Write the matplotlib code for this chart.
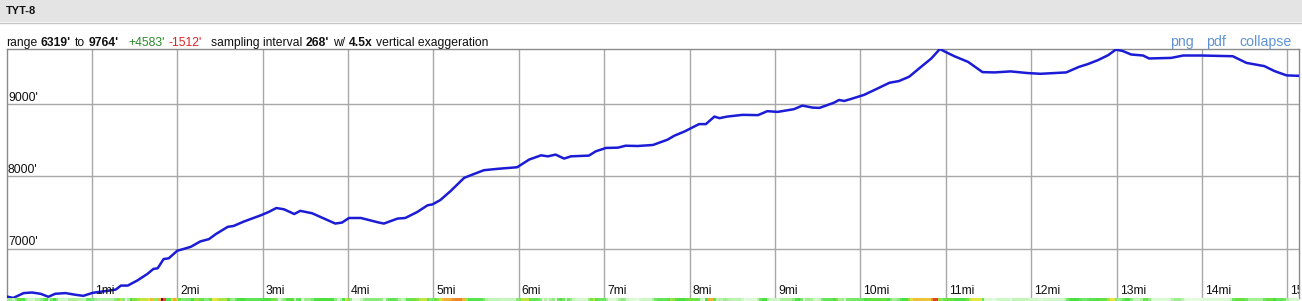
import numpy as np
import matplotlib.pyplot as plt
from matplotlib.colors import LinearSegmentedColormap
from matplotlib.patches import Rectangle
from matplotlib.lines import Line2D

plt.rcParams['font.family'] = ['Liberation Sans', 'DejaVu Sans']

W, H = 1302, 301

# elevation profile: distance (mi) / elevation (ft)
miles = [0.00, 0.08, 0.20, 0.30, 0.40, 0.49, 0.57, 0.69, 0.81, 0.90,
         1.01, 1.18, 1.28, 1.34, 1.42, 1.53, 1.65, 1.72, 1.77, 1.84,
         1.90, 2.00, 2.07, 2.16, 2.27, 2.37, 2.45, 2.59, 2.66, 2.78,
         2.98, 3.07, 3.16, 3.25, 3.37, 3.44, 3.58, 3.85, 3.93, 4.01,
         4.15, 4.36, 4.42, 4.58, 4.67, 4.81, 4.93, 4.99, 5.08, 5.20,
         5.36, 5.46, 5.59, 5.75, 5.98, 6.12, 6.26, 6.34, 6.43, 6.53,
         6.61, 6.82, 6.90, 7.02, 7.16, 7.25, 7.39, 7.57, 7.74, 7.82,
         7.94, 8.11, 8.19, 8.29, 8.35, 8.44, 8.62, 8.80, 8.91, 9.03,
         9.22, 9.32, 9.44, 9.52, 9.69, 9.75, 9.81, 9.89, 10.04, 10.18,
         10.34, 10.45, 10.57, 10.71, 10.83, 10.93, 10.98, 11.10, 11.26, 11.43,
         11.57, 11.76, 11.96, 12.11, 12.41, 12.56, 12.66, 12.78, 12.90, 12.99,
         13.07, 13.17, 13.31, 13.38, 13.64, 13.78, 13.99, 14.36, 14.52, 14.73,
         14.85, 14.99, 15.13]
elev = [6340, 6320, 6387, 6395, 6377, 6336, 6377, 6387, 6363, 6349,
        6391, 6418, 6436, 6491, 6491, 6560, 6652, 6721, 6730, 6858,
        6868, 6973, 6996, 7028, 7102, 7133, 7202, 7303, 7316, 7377,
        7464, 7509, 7564, 7546, 7481, 7525, 7491, 7349, 7363, 7426,
        7426, 7363, 7349, 7418, 7426, 7509, 7601, 7615, 7674, 7798,
        7982, 8028, 8087, 8106, 8128, 8234, 8293, 8279, 8303, 8248,
        8279, 8289, 8348, 8395, 8399, 8426, 8422, 8436, 8509, 8564,
        8623, 8725, 8725, 8829, 8807, 8829, 8853, 8849, 8904, 8894,
        8931, 8981, 8953, 8949, 9021, 9059, 9045, 9073, 9128, 9206,
        9297, 9320, 9380, 9517, 9633, 9764, 9733, 9664, 9586, 9444,
        9440, 9454, 9431, 9421, 9440, 9517, 9554, 9609, 9678, 9755,
        9737, 9688, 9674, 9633, 9641, 9674, 9674, 9664, 9572, 9527,
        9458, 9399, 9393]

y_ticks = [7000, 8000, 9000]
mile_ticks = list(range(1, 16))
y_min, y_max = 6319, 9764
x_max = 15.13

title = "TYT-8"
# info line, in groups that start at a fixed pixel: (text, weight, colour)
info_groups = [
    (6, [("range", 'normal', '#111111'), ("6319'", 'bold', '#111111'),
         ("to", 'normal', '#111111'), ("9764'", 'bold', '#111111')]),
    (128.5, [("+4583'", 'normal', '#2a8a2a'), ("-1512'", 'normal', '#e02424')]),
    (211, [("sampling interval", 'normal', '#111111'), ("268'", 'bold', '#111111'),
           ("w/", 'normal', '#111111'), ("4.5x", 'bold', '#111111'),
           ("vertical exaggeration", 'normal', '#111111')]),
]
links = [("png", 1170), ("pdf", 1206), ("collapse", 1239)]


def fx(px):
    return px / W


def fy(py):
    return 1 - py / H


fig = plt.figure(figsize=(W / 100, H / 100), dpi=100)
renderer = fig.canvas.get_renderer()

# header band
fig.patches.append(Rectangle((0, fy(22)), 1, 1 - fy(22), transform=fig.transFigure,
                             facecolor='#e4e4e4', edgecolor='none'))
fig.add_artist(Line2D([0, 1], [fy(22.5)] * 2, color='#c6c6c6', lw=1))
fig.text(fx(6), fy(14), title, fontsize=8, fontweight='bold', color='#111111',
         va='baseline', ha='left')

space = 3.6
for x0, parts in info_groups:
    x = x0
    for txt, wt, col in parts:
        t = fig.text(fx(x), fy(46), txt, fontsize=8.7, fontweight=wt, color=col,
                     va='baseline', ha='left')
        x = t.get_window_extent(renderer).x1 + space
for txt, x in links:
    fig.text(fx(x), fy(46), txt, fontsize=10.2, color='#5f93d4',
             va='baseline', ha='left')

# profile axes
ax = fig.add_axes([fx(6.5), fy(298), fx(1298.5) - fx(6.5), fy(49) - fy(298)])
ax.set_xlim(0, x_max)
ax.set_ylim(y_min, y_max)
ax.set_xticks(mile_ticks)
ax.set_yticks(y_ticks)
ax.tick_params(length=0, labelbottom=False, labelleft=False)
ax.grid(color='#a8a8a8', lw=1)
for s in ['top', 'left', 'right']:
    ax.spines[s].set_color('#8a8a8a')
    ax.spines[s].set_linewidth(1)
ax.spines['bottom'].set_visible(False)

ax.plot(miles, elev, color='#1c1cd6', lw=1.8, solid_joinstyle='round', zorder=3)

for y in y_ticks:
    ax.annotate(f"{y}'", xy=(0, y), xytext=(1.5, 3.5), textcoords='offset pixels',
                fontsize=8.7, color='#111111', va='baseline', ha='left')
for m in mile_ticks:
    ax.annotate(f"{m}mi", xy=(m, y_min), xytext=(3, 4), textcoords='offset pixels',
                fontsize=8.7, color='#111111', va='baseline', ha='left',
                clip_on=True)

# grade strip under the profile
d = np.arange(0, x_max, 0.03)
e = np.interp(d, miles, elev)
grade = np.abs(np.gradient(e, d)) / 5280
cmap = LinearSegmentedColormap.from_list(
    'grade', [(0, '#e4fbe0'), (0.12, '#a8f098'), (0.3, '#48e040'),
              (0.5, '#e8e840'), (0.65, '#f0a030'), (0.8, '#e03020'), (1, '#800020')])
ax2 = fig.add_axes([fx(6.5), 0, fx(1298.5) - fx(6.5), fy(298)])
ax2.imshow(grade[None, :], aspect='auto', cmap=cmap, vmin=0, vmax=0.32,
           extent=[0, x_max, 0, 1], interpolation='nearest')
ax2.set_axis_off()

fig.savefig('out.png', dpi=100)
